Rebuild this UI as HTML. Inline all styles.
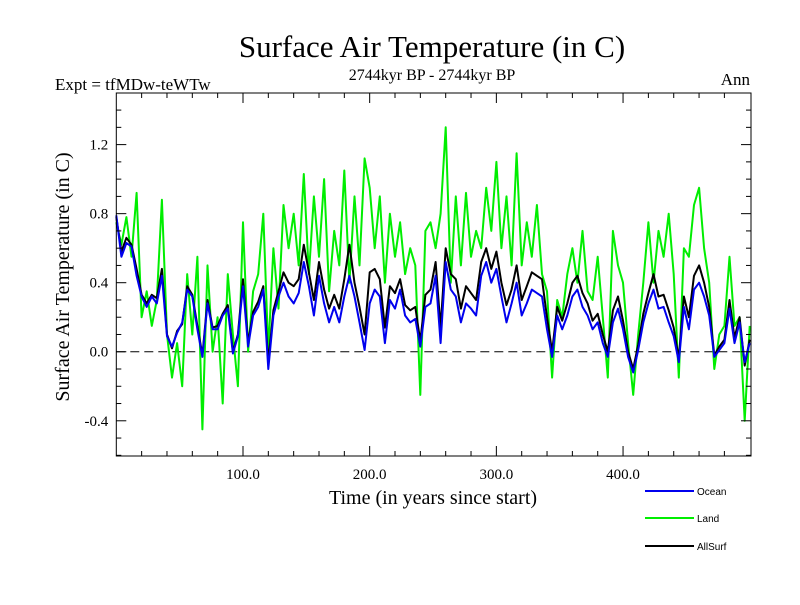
<!DOCTYPE html>
<html><head><meta charset="utf-8"><style>
body{margin:0;background:#fff}
svg text{font-family:"Liberation Serif",serif}
</style></head><body>
<svg id="c" width="800" height="600" viewBox="0 0 800 600">
<rect width="800" height="600" fill="#fff"/>
<text x="432" y="57" font-size="31" text-anchor="middle">Surface Air Temperature (in C)</text>
<text x="55" y="90" font-size="17">Expt = tfMDw-teWTw</text>
<text x="432" y="80" font-size="16" text-anchor="middle">2744kyr BP - 2744kyr BP</text>
<text x="750" y="85" font-size="17" text-anchor="end">Ann</text>
<text transform="translate(69,277) rotate(-90)" font-size="20" text-anchor="middle">Surface Air Temperature (in C)</text>
<text x="433" y="504" font-size="20" text-anchor="middle">Time (in years since start)</text>
<g id="plot"></g>
<g id="axes"></g>
<g id="legend"></g>
</svg>
<script>
const years=[];for(let i=0;i<=125;i++)years.push(i*4);
const ocean=[0.79,0.55,0.63,0.61,0.44,0.32,0.26,0.32,0.28,0.44,0.09,0.03,0.11,0.17,0.36,0.32,0.13,-0.03,0.28,0.13,0.13,0.21,0.25,-0.01,0.09,0.38,0.03,0.21,0.26,0.36,-0.1,0.21,0.32,0.40,0.32,0.28,0.34,0.52,0.38,0.21,0.44,0.28,0.17,0.26,0.17,0.32,0.44,0.32,0.17,0.01,0.28,0.36,0.32,0.05,0.30,0.25,0.36,0.21,0.17,0.19,0.03,0.26,0.28,0.44,0.05,0.52,0.36,0.32,0.17,0.28,0.25,0.21,0.44,0.52,0.40,0.48,0.32,0.17,0.28,0.40,0.21,0.28,0.36,0.34,0.32,0.13,-0.03,0.21,0.13,0.21,0.32,0.36,0.26,0.21,0.13,0.17,0.05,-0.03,0.17,0.25,0.13,-0.03,-0.12,0.01,0.17,0.28,0.36,0.25,0.26,0.17,0.09,-0.06,0.26,0.13,0.36,0.40,0.32,0.21,-0.03,0.01,0.05,0.25,0.05,0.17,-0.06,0.05];
const land=[0.75,0.62,0.78,0.55,0.92,0.2,0.35,0.15,0.3,0.88,0.1,-0.15,0.05,-0.2,0.45,0.1,0.55,-0.45,0.5,0.0,0.2,-0.3,0.45,0.1,-0.2,0.75,0.0,0.35,0.45,0.8,0.0,0.6,0.25,0.85,0.6,0.8,0.5,1.03,0.45,0.9,0.55,1.0,0.35,0.7,0.5,1.05,0.4,0.9,0.5,1.12,0.95,0.6,0.9,0.4,0.8,0.55,0.75,0.45,0.6,0.5,-0.25,0.7,0.75,0.6,0.8,1.3,0.4,0.9,0.5,0.92,0.55,0.7,0.6,0.95,0.7,1.1,0.6,0.9,0.5,1.15,0.5,0.75,0.55,0.85,0.45,0.35,-0.15,0.3,0.2,0.45,0.6,0.4,0.7,0.35,0.3,0.55,0.2,-0.15,0.7,0.5,0.4,0.05,-0.25,0.1,0.4,0.75,0.4,0.7,0.55,0.8,0.45,-0.15,0.6,0.55,0.85,0.95,0.6,0.4,-0.1,0.1,0.15,0.55,0.15,0.2,-0.4,0.15];
const allsurf=[0.78,0.58,0.66,0.62,0.48,0.33,0.28,0.33,0.31,0.48,0.1,0.02,0.12,0.16,0.38,0.33,0.15,-0.02,0.3,0.14,0.15,0.22,0.27,0.0,0.1,0.42,0.05,0.23,0.29,0.38,-0.06,0.24,0.35,0.46,0.4,0.38,0.42,0.62,0.46,0.3,0.52,0.36,0.25,0.33,0.25,0.42,0.62,0.4,0.26,0.1,0.46,0.48,0.42,0.14,0.38,0.34,0.42,0.27,0.24,0.26,0.06,0.33,0.36,0.52,0.14,0.6,0.45,0.42,0.25,0.38,0.34,0.3,0.52,0.6,0.48,0.58,0.4,0.27,0.36,0.5,0.3,0.38,0.46,0.44,0.42,0.2,0.0,0.26,0.18,0.28,0.4,0.44,0.34,0.28,0.18,0.22,0.1,0.0,0.24,0.32,0.18,0.0,-0.1,0.04,0.22,0.34,0.45,0.32,0.33,0.24,0.14,-0.04,0.32,0.2,0.44,0.5,0.4,0.26,-0.02,0.03,0.07,0.3,0.08,0.2,-0.08,0.07];
const yTicks=[-0.4,0.0,0.4,0.8,1.2];
const yTickLabels=["-0.4","0.0","0.4","0.8","1.2"];
const xTicks=[100,200,300,400];
const xTickLabels=["100.0","200.0","300.0","400.0"];
const L=116.3,R=751,T=93,B=456;
const X0=0,X1=501,Y0=-0.604,Y1=1.499;
const sx=v=>L+(v-X0)/(X1-X0)*(R-L);
const sy=v=>B-(v-Y0)/(Y1-Y0)*(B-T);
const NS="http://www.w3.org/2000/svg";
function mk(t,a,p){const e=document.createElementNS(NS,t);for(const k in a)e.setAttribute(k,a[k]);p.appendChild(e);return e;}
const plot=document.getElementById('plot'),axes=document.getElementById('axes'),leg=document.getElementById('legend');
const zl=mk('line',{x1:L,x2:R,y1:sy(0),y2:sy(0),stroke:'#000','stroke-width':1,'stroke-dasharray':'9,5'},plot);


function series(vals,color,name){
 const d=vals.map((v,i)=>(i?'L':'M')+sx(years[i]).toFixed(1)+','+sy(v).toFixed(1)).join('');
 const p=mk('path',{d:d,fill:'none',stroke:color,'stroke-width':2,'stroke-linejoin':'round'},plot);
 
 
}
series(land,'#00ee00','land-line');
series(allsurf,'#000','allsurf-line');
series(ocean,'#0000ee','ocean-line');
const fr=mk('rect',{x:L,y:T,width:R-L,height:B-T,fill:'none',stroke:'#000','stroke-width':1},axes);


for(let v=-0.6;v<=1.45;v+=0.1){
 const y=sy(v),major=Math.abs(Math.round(v*10)%4)===0,len=major?10:5;
 mk('line',{x1:L,x2:L+len,y1:y,y2:y,stroke:'#000'},axes);
 mk('line',{x1:R,x2:R-len,y1:y,y2:y,stroke:'#000'},axes);
}
for(let v=20;v<500;v+=20){
 const x=sx(v),len=v%100===0?10:5;
 mk('line',{x1:x,x2:x,y1:B,y2:B-len,stroke:'#000'},axes);
 mk('line',{x1:x,x2:x,y1:T,y2:T+len,stroke:'#000'},axes);
}
yTicks.forEach((v,i)=>{
 const t=mk('text',{x:L-8,y:sy(v)+5,'font-size':15,'text-anchor':'end'},axes);
 t.textContent=yTickLabels[i];
 
 
});
xTicks.forEach((v,i)=>{
 const t=mk('text',{x:sx(v),y:B+23,'font-size':15,'text-anchor':'middle'},axes);
 t.textContent=xTickLabels[i];
 
 
});
[['Ocean','#0000ee',491],['Land','#00ee00',518],['AllSurf','#000',546]].forEach(([n,c,y])=>{
 const g=mk('g',{},leg);
 
 
 mk('line',{x1:645,x2:694,y1:y,y2:y,stroke:c,'stroke-width':2},g);
 const t=mk('text',{x:697,y:y+4,'font-size':10,style:'font-family:"Liberation Sans",sans-serif'},g);
 t.textContent=n;
});
</script>
</body></html>
